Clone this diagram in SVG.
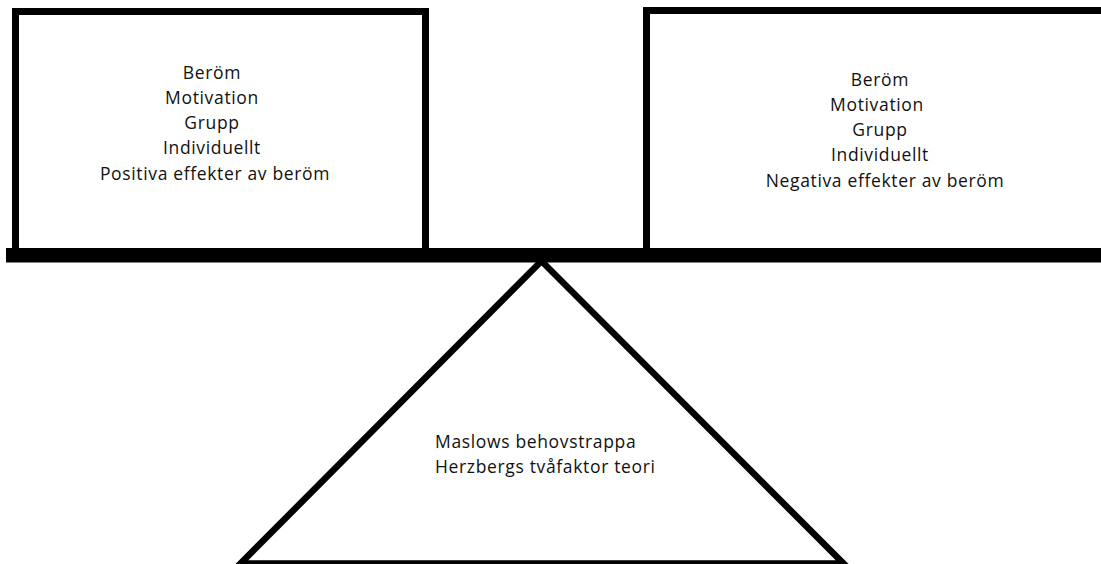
<svg xmlns="http://www.w3.org/2000/svg" width="1101" height="564" viewBox="0 0 1101 564">
<style>
.frame{fill:none;stroke:#000;stroke-width:7;stroke-linejoin:miter}
.lbl{font-family:"Open Sans","Liberation Sans",sans-serif;font-size:17.5px;letter-spacing:0.65px;fill:#111}
.c{text-anchor:middle}
</style>
<rect width="1101" height="564" fill="#fff"/>
<g id="left-box">
<path class="frame" d="M15.5,250 V11.5 H425.5 V250"/>
<text class="lbl c" x="212" y="79">Beröm</text>
<text class="lbl c" x="212" y="104">Motivation</text>
<text class="lbl c" x="212" y="129">Grupp</text>
<text class="lbl c" x="212" y="154">Individuellt</text>
<text class="lbl c" x="215" y="180">Positiva effekter av beröm</text>
</g>
<g id="right-box">
<path class="frame" d="M646.5,250 V10.5 H1110"/>
<text class="lbl c" x="880" y="86">Beröm</text>
<text class="lbl c" x="877" y="111">Motivation</text>
<text class="lbl c" x="880" y="136">Grupp</text>
<text class="lbl c" x="880" y="161">Individuellt</text>
<text class="lbl c" x="885" y="187">Negativa effekter av beröm</text>
</g>
<g id="beam">
<rect x="6" y="248" width="1100" height="14.5" fill="#000"/>
</g>
<g id="fulcrum">
<polygon class="frame" style="stroke-width:6.5" points="541.5,261 240.5,563.5 843.5,563.5"/>
<text class="lbl" x="435" y="448">Maslows behovstrappa</text>
<text class="lbl" x="435" y="473">Herzbergs tvåfaktor teori</text>
</g>
<g id="connectors"></g>
</svg>
